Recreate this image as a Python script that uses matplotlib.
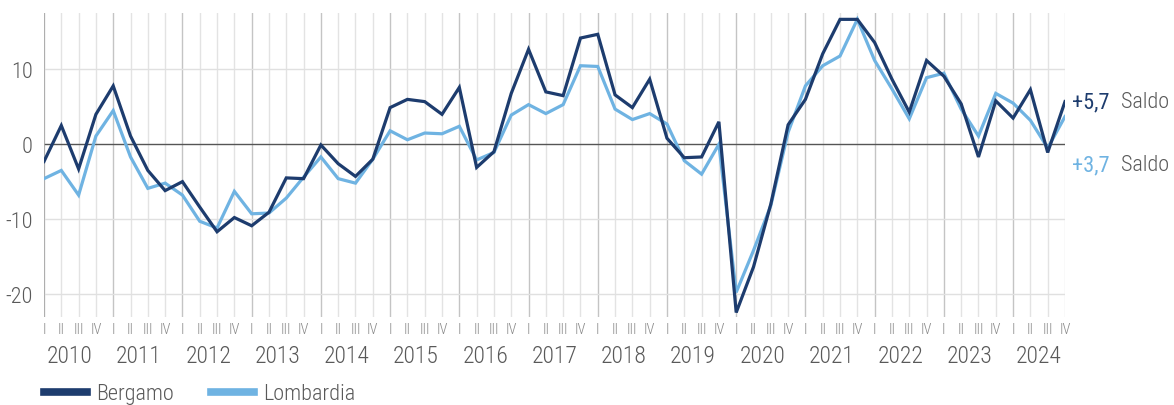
import matplotlib
matplotlib.use("Agg")
import matplotlib.pyplot as plt
from matplotlib.lines import Line2D
import matplotlib.transforms as mtransforms

plt.rcParams['font.family'] = ['Roboto Condensed', 'Open Sans Condensed', 'Roboto', 'DejaVu Sans']

years = [str(y) for y in range(2010, 2025)]
quarters = ["I", "II", "III", "IV"]

bergamo = [-2.3, 2.5, -3.3, 4.0,
           7.8, 1.1, -3.5, -6.2,
           -5.0, -8.4, -11.7, -9.8,
           -10.9, -9.1, -4.5, -4.6,
           -0.1, -2.6, -4.3, -2.0,
           4.9, 6.0, 5.7, 4.0,
           7.6, -3.1, -1.0, 6.8,
           12.7, 7.0, 6.5, 14.2,
           14.7, 6.6, 4.9, 8.7,
           0.8, -1.8, -1.7, 3.0,
           -22.5, -16.4, -8.0, 2.6,
           6.0, 12.1, 16.7, 16.7,
           13.6, 8.7, 4.3, 11.2,
           9.1, 5.4, -1.7, 5.8,
           3.5, 7.3, -1.1, 5.7]

lombardia = [-4.6, -3.5, -6.8, 1.1,
             4.5, -1.7, -5.9, -5.2,
             -6.8, -10.3, -11.2, -6.3,
             -9.3, -9.2, -7.2, -4.4,
             -1.7, -4.6, -5.2, -2.0,
             1.8, 0.6, 1.5, 1.4,
             2.4, -2.1, -1.1, 3.9,
             5.3, 4.1, 5.3, 10.5,
             10.4, 4.7, 3.3, 4.1,
             2.7, -2.2, -4.0, 0.0,
             -19.8, -14.2, -8.2, 1.6,
             7.8, 10.5, 11.8, 16.7,
             11.2, 7.4, 3.4, 8.9,
             9.5, 4.7, 1.1, 6.8,
             5.5, 3.2, -0.5, 3.7]

series_names = ["Bergamo", "Lombardia"]
last_labels = ["+5,7", "+3,7"]
yticks = [-20, -10, 0, 10]

navy = "#1d3c6e"
light = "#6fb3e2"
gray_text = "#595959"

W, H = 1174, 406
fig = plt.figure(figsize=(W / 100, H / 100), dpi=100)
left, right, top, bottom = 44, 1065, 14, 318
ax = fig.add_axes([left / W, (H - bottom) / H, (right - left) / W, (bottom - top) / H])

n = len(bergamo)
x = list(range(n))
ax.set_xlim(0, n - 1)
ax.set_ylim(-23.1, 17.55)

# vertical grid at every quarter
for i in x:
    c = "#c4c4c4" if i % 4 == 0 else "#e3e3e3"
    ax.axvline(i, color=c, lw=1.0, zorder=0)
# horizontal grid
for v in yticks:
    if v == 0:
        ax.axhline(0, color="#555555", lw=1.0, zorder=1)
    else:
        ax.axhline(v, color="#e0e0e0", lw=1.0, zorder=0)
ax.axvline(0, color="#aaaaaa", lw=1.2, zorder=1)

ax.plot(x, lombardia, color=light, lw=2.3, zorder=3, solid_joinstyle='miter')
ax.plot(x, bergamo, color=navy, lw=2.3, zorder=4, solid_joinstyle='miter')

for s in ax.spines.values():
    s.set_visible(False)
ax.set_xticks([])
ax.set_yticks(yticks)
ax.set_yticklabels([str(v) for v in yticks], fontsize=16, color=gray_text, fontweight='light')
ax.tick_params(axis='y', length=0, pad=8)

# quarter labels and years
trans = mtransforms.blended_transform_factory(ax.transData, fig.transFigure)
for i in x:
    ax.text(i, (H - 330) / H, quarters[i % 4], transform=trans, ha='center', va='center',
            fontsize=10.5, color="#8a8a8a", fontweight='light')
for k, yr in enumerate(years):
    ax.text(4 * k + 1.5, (H - 357) / H, yr, transform=trans, ha='center', va='center',
            fontsize=17, color=gray_text, fontweight='light')

# right labels
fig.text(1072 / W, (H - 103) / H, last_labels[0], color=navy, fontsize=16, ha='left', va='center')
fig.text(1121 / W, (H - 103) / H, "Saldo", color=gray_text, fontsize=16, ha='left', va='center',
         fontweight='light')
fig.text(1072 / W, (H - 166) / H, last_labels[1], color=light, fontsize=16, ha='left', va='center')
fig.text(1121 / W, (H - 166) / H, "Saldo", color=gray_text, fontsize=16, ha='left', va='center',
         fontweight='light')

# legend
handles = [Line2D([], [], color=navy, lw=5.5), Line2D([], [], color=light, lw=5.5)]
fig.legend(handles, series_names, loc='center left', bbox_to_anchor=(44 / W, (H - 395) / H),
           ncol=2, frameon=False, prop={'size': 16, 'weight': 'light'}, handlelength=1.95,
           handletextpad=0.4, columnspacing=1.65, labelcolor=gray_text, borderpad=0,
           borderaxespad=0)

fig.savefig("out.png", dpi=100)
